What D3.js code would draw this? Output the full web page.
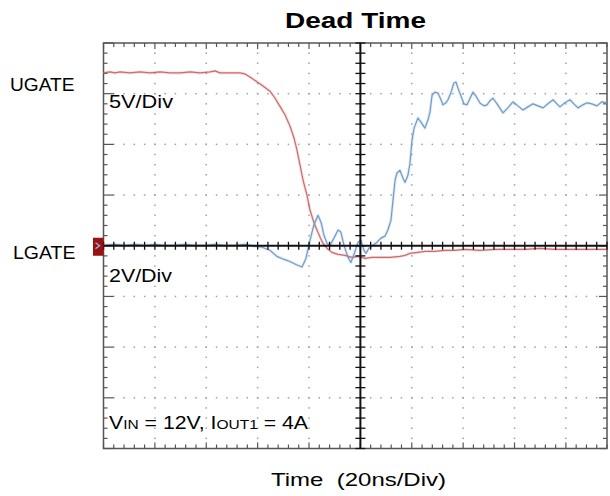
<!DOCTYPE html>
<html>
<head>
<meta charset="utf-8">
<script src="https://cdn.jsdelivr.net/npm/d3@7/dist/d3.min.js"></script>
<style>
  html, body { margin: 0; padding: 0; background: #fff; }
  svg { display: block; }
  text { font-family: "Liberation Sans", Arial, sans-serif; fill: #000; }
</style>
</head>
<body>
<svg id="chart" width="610" height="496"></svg>
<script>
// ---- Data (time in ns, amplitude in divisions) ----
const uTime = [0,2.5,4.5,6.4,10.3,14.2,18.1,22.0,25.9,29.8,33.7,37.6,41.5,43.4,45.3,49.2,53.1,55.1,57.0,59.3,62.1,64.8,66.8,68.7,70.7,72.6,74.2,75.3,76.5,77.7,79.2,80.4,81.9,83.1,84.3,85.4,87.0,88.9,91.3,94.0,96.7,99.1,101.8,104.5,107.6,111.5,115.4,117.4,119.3,122.4,125.1,129.0,132.9,136.8,140.7,146.6,152.4,158.2,164.1,169.9,175.7,181.6,187.4,193.2,196];
const uGate = [3.41,3.43,3.41,3.43,3.41,3.43,3.41,3.43,3.41,3.41,3.43,3.41,3.43,3.45,3.41,3.41,3.41,3.39,3.33,3.25,3.15,3.05,2.91,2.75,2.58,2.36,2.12,1.89,1.59,1.29,1.00,0.70,0.46,0.31,0.17,0.05,-0.05,-0.13,-0.17,-0.19,-0.23,-0.21,-0.25,-0.23,-0.23,-0.23,-0.21,-0.19,-0.15,-0.13,-0.11,-0.11,-0.09,-0.09,-0.07,-0.09,-0.07,-0.07,-0.07,-0.05,-0.07,-0.07,-0.07,-0.07,-0.07];

const lTime = [0,4.5,8.4,12.3,16.2,20.0,23.9,27.8,31.7,35.6,39.5,43.4,47.3,51.2,55.1,59.0,61.7,64.8,67.5,70.3,72.6,74.9,77.3,78.8,80.4,81.9,83.5,84.7,85.8,87.0,88.2,89.7,91.3,92.4,93.6,95.2,96.3,97.5,99.1,100.2,101.4,102.2,103.3,104.9,106.5,108.0,109.6,110.7,111.9,112.7,113.5,114.2,115.4,116.6,117.4,118.5,119.3,120.1,120.9,122.4,123.6,125.1,126.3,127.1,127.9,129.0,130.2,131.4,132.1,133.3,134.1,135.3,136.4,137.2,138.0,139.2,140.3,141.5,142.7,143.8,145.0,146.6,148.1,149.3,150.4,151.6,153.2,155.5,157.4,159.4,161.3,163.3,165.2,167.2,169.1,171.1,173.0,175.0,176.5,177.7,179.6,181.6,183.1,184.7,186.6,188.2,190.1,192.1,194.0,196];
const lGate = [0.01,0.03,0.01,0.03,0.01,0.03,0.01,0.01,0.03,0.01,0.01,0.03,0.01,0.01,0.03,-0.01,-0.03,-0.09,-0.21,-0.27,-0.31,-0.37,-0.42,-0.25,0.11,0.41,0.60,0.46,0.21,0.05,0.01,0.15,0.31,0.27,0.01,-0.23,-0.33,-0.17,0.07,0.11,-0.09,-0.15,-0.05,0.01,0.07,0.15,0.19,0.31,0.50,0.90,1.29,1.43,1.49,1.33,1.25,1.39,1.63,2.08,2.32,2.52,2.44,2.32,2.48,2.64,2.97,3.03,3.01,2.88,2.78,2.82,2.88,3.03,3.21,3.23,3.11,2.95,2.80,2.78,2.91,3.03,2.95,2.81,2.76,2.78,2.86,2.91,2.80,2.62,2.72,2.84,2.76,2.68,2.74,2.80,2.76,2.72,2.80,2.88,2.80,2.74,2.82,2.88,2.80,2.72,2.78,2.82,2.80,2.76,2.84,2.82];

const timeDomain = [0, 196];      // ns shown (20 ns/div)
const divDomain = [-4, 4];        // vertical divisions
const title = "Dead Time";
const xTitle = "Time\u00A0\u00A0(20ns/Div)";
const channelNames = ["UGATE", "LGATE"];
const scaleLabels = ["5V/Div", "2V/Div"];

// ---- Layout ----
const svg = d3.select("#chart");
const x = d3.scaleLinear().domain(timeDomain).range([103.5, 607]);
const y = d3.scaleLinear().domain(divDomain).range([448.5, 43]);

const x0 = x.range()[0], x1 = x.range()[1];
const y0 = y.range()[1], y1 = y.range()[0];
const xc = x(100), yc = y(0);

const minorT = d3.range(0, 196.01, 4);
const minorV = d3.range(-4, 4.001, 0.2).map(v => +v.toFixed(1));
const majorT = d3.range(20, 181, 20).filter(t => t !== 100);
const majorV = [-3, -2, -1, 1, 2, 3];

// dotted grid
const grid = svg.append("g").attr("fill", "#a0a0a0");
majorV.forEach(v => {
  grid.selectAll(null).data(minorT.filter(t => t > 0 && t < 196)).enter()
    .append("rect").attr("x", t => x(t) - 0.75).attr("y", y(v) - 0.75)
    .attr("width", 1.5).attr("height", 1.5);
});
majorT.forEach(t => {
  grid.selectAll(null).data(minorV.filter(v => v > -4 && v < 4)).enter()
    .append("rect").attr("x", x(t) - 0.75).attr("y", v => y(v) - 0.75)
    .attr("width", 1.5).attr("height", 1.5);
});

// border with inward ticks
const border = svg.append("g").attr("stroke", "#555").attr("stroke-width", 1.2);
border.append("rect").attr("x", x0).attr("y", y0).attr("width", x1 - x0).attr("height", y1 - y0)
  .attr("fill", "none").attr("stroke-width", 1.5);
const isMajT = t => Math.abs(t % 20) < 1e-6;
const isMajV = v => Math.abs(v - Math.round(v)) < 1e-6;
border.selectAll(".tt").data(minorT).enter().append("line")
  .attr("x1", t => x(t)).attr("x2", t => x(t)).attr("y1", y0).attr("y2", t => y0 + (isMajT(t) ? 6 : 4));
border.selectAll(".tb").data(minorT).enter().append("line")
  .attr("x1", t => x(t)).attr("x2", t => x(t)).attr("y1", y1).attr("y2", t => y1 - (isMajT(t) ? 6 : 4));
border.selectAll(".tl").data(minorV).enter().append("line")
  .attr("y1", v => y(v)).attr("y2", v => y(v)).attr("x1", x0).attr("x2", v => x0 + (isMajV(v) ? 10 : 4));
border.selectAll(".tr").data(minorV).enter().append("line")
  .attr("y1", v => y(v)).attr("y2", v => y(v)).attr("x1", x1).attr("x2", v => x1 - (isMajV(v) ? 8 : 4));

// traces
const lineGen = (ts, vs) => d3.line().x((d, i) => x(ts[i])).y((d, i) => y(vs[i])).curve(d3.curveLinear)(ts);
const traces = [
  { t: uTime, v: uGate, color: "#cd6a6a" },
  { t: lTime, v: lGate, color: "#6f9bc8" }
];
const tg = svg.append("g").attr("fill", "none").attr("stroke-linejoin", "round");
traces.forEach(tr => {
  const d = lineGen(tr.t, tr.v);
  tg.append("path").attr("d", d).attr("stroke", tr.color).attr("stroke-width", 3).attr("opacity", 0.2);
  tg.append("path").attr("d", d).attr("stroke", tr.color).attr("stroke-width", 1.2);
});

// center axes
const ax = svg.append("g").attr("stroke", "#111");
ax.append("line").attr("x1", x0).attr("x2", x1).attr("y1", yc).attr("y2", yc).attr("stroke-width", 2);
ax.append("line").attr("x1", xc).attr("x2", xc).attr("y1", y0).attr("y2", y1).attr("stroke-width", 2);
ax.selectAll(".cx").data(minorT).enter().append("line").attr("stroke-width", 1.3)
  .attr("x1", t => x(t)).attr("x2", t => x(t)).attr("y1", yc - 4).attr("y2", yc + 4);
ax.selectAll(".cy").data(minorV).enter().append("line").attr("stroke-width", 1.3)
  .attr("y1", v => y(v)).attr("y2", v => y(v)).attr("x1", xc - 5).attr("x2", xc + 5);

// ground marker
const mk = svg.append("g");
mk.append("rect").attr("x", x0 - 10.5).attr("y", yc - 8).attr("width", 10.5).attr("height", 18).attr("fill", "#9b1010");
mk.append("path").attr("d", `M${x0 - 8},${yc - 3} L${x0 - 4},${yc} L${x0 - 8},${yc + 3}`)
  .attr("fill", "none").attr("stroke", "#8fb4e0").attr("stroke-width", 1.5);

// texts
function label(str, xs, xe, base, size, weight) {
  return svg.append("text").attr("x", xs).attr("y", base)
    .attr("font-size", size).attr("font-weight", weight || "normal")
    .attr("textLength", xe - xs).attr("lengthAdjust", "spacingAndGlyphs")
    .text(str);
}
label(title, 285, 426, 27.5, 22, "bold");
label(xTitle, 271, 446, 486, 19);
label(channelNames[0], 10, 74.5, 90.5, 19);
label(channelNames[1], 13, 75.5, 259, 19);
label(scaleLabels[0], 109, 173, 107.5, 18);
label(scaleLabels[1], 109, 172, 282, 18);

const cond = svg.append("text").attr("x", 109).attr("y", 429).attr("font-size", 18.5)
  .attr("textLength", 199).attr("lengthAdjust", "spacingAndGlyphs");
cond.append("tspan").text("V");
cond.append("tspan").attr("font-size", 13.5).text("IN");
cond.append("tspan").text(" = 12V, I");
cond.append("tspan").attr("font-size", 13.5).text("OUT1");
cond.append("tspan").text(" = 4A");
</script>
</body>
</html>
